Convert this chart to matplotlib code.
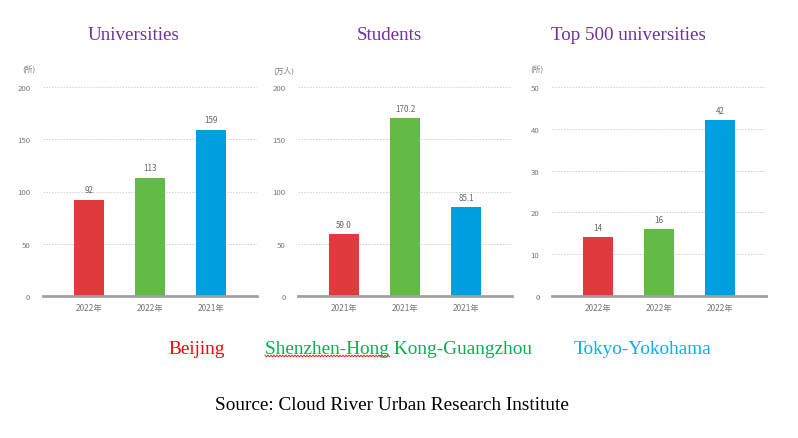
import matplotlib
matplotlib.use("Agg")
import matplotlib.pyplot as plt
import numpy as np
from matplotlib.lines import Line2D

W, H = 798, 439

titles = ["Universities", "Students", "Top 500 universities"]
units = ["(所)", "(万人)", "(所)"]
uni_years = ["2022年", "2022年", "2021年"]
uni_vals = [92, 113, 159]
stu_years = ["2021年", "2021年", "2021年"]
stu_vals = [59.0, 170.2, 85.1]
stu_labels = ["59.0", "170.2", "85.1"]
top_years = ["2022年", "2022年", "2022年"]
top_vals = [14, 16, 42]
cities = ["Beijing", "Shenzhen-Hong Kong-Guangzhou", "Tokyo-Yokohama"]
source = "Source: Cloud River Urban Research Institute"

bar_colors = ["#E0393E", "#62BB46", "#009FDF"]
city_colors = ["#FF0000", "#00B050", "#00B0F0"]
title_color = "#7030A0"

panels = [
    dict(left=43, vals=uni_vals, labels=[str(v) for v in uni_vals], years=uni_years,
         ymax=200, ticks=[0, 50, 100, 150, 200], unit=units[0], unit_x=22),
    dict(left=298, vals=stu_vals, labels=stu_labels, years=stu_years,
         ymax=200, ticks=[0, 50, 100, 150, 200], unit=units[1], unit_x=273),
    dict(left=552, vals=top_vals, labels=[str(v) for v in top_vals], years=top_years,
         ymax=50, ticks=[0, 10, 20, 30, 40, 50], unit=units[2], unit_x=530),
]

fig = plt.figure(figsize=(W / 100, H / 100), dpi=100)
fig.patch.set_facecolor("white")

cjk = ["Noto Sans CJK SC", "DejaVu Sans"]
tick_color = "#777777"
y0, ytop = 297, 88
axw = 214

for p in panels:
    ax = fig.add_axes([p["left"] / W, 1 - y0 / H, axw / W, (y0 - ytop) / H])
    x = np.arange(3)
    ax.bar(x, p["vals"], width=0.5, color=bar_colors, zorder=3)
    ax.set_xlim(-0.75, 2.75)
    ax.set_ylim(0, p["ymax"])
    for s in ["top", "right", "left"]:
        ax.spines[s].set_visible(False)
    ax.spines["bottom"].set_color("#A0A0A0")
    ax.spines["bottom"].set_linewidth(2)
    ax.spines["bottom"].set_zorder(4)
    ax.set_yticks(p["ticks"])
    ax.set_yticklabels([str(t) for t in p["ticks"]], fontsize=5.6, color=tick_color,
                       family=cjk)
    ax.set_xticks(x)
    ax.set_xticklabels(p["years"], fontsize=6.0, color=tick_color, family=cjk)
    ax.tick_params(axis="both", length=0)
    ax.tick_params(axis="y", pad=9)
    ax.tick_params(axis="x", pad=5)
    for t in p["ticks"][1:]:
        ax.axhline(t, color="#D0D0D0", linestyle=(0, (1.5, 1.5)), linewidth=0.7, zorder=1)
    for xi, v, lab in zip(x, p["vals"], p["labels"]):
        ax.annotate(lab, (xi, v), xytext=(0, 4), textcoords="offset points",
                    ha="center", va="bottom", fontsize=5.8, color="#666666",
                    family=cjk, annotation_clip=False)
    fig.text(p["unit_x"] / W, 1 - 71 / H, p["unit"], fontsize=5.6, color=tick_color,
             family=cjk, ha="left", va="center")

serif = ["Liberation Serif", "DejaVu Serif"]
title_x = [88, 357, 551]
for t, tx in zip(titles, title_x):
    fig.text(tx / W, 1 - 40 / H, t, fontsize=13.7, color=title_color, family=serif,
             ha="left", va="baseline")

city_x = [168, 265, 574]
for c, cx, col in zip(cities, city_x, city_colors):
    fig.text(cx / W, 1 - 354 / H, c, fontsize=13.9, color=col, family=serif,
             ha="left", va="baseline")

fig.text(215 / W, 1 - 410 / H, source, fontsize=13.9, color="black", family=serif,
         ha="left", va="baseline")

# spell-check squiggle under "Shenzhen-Hong"
zx = np.arange(265, 390, 1.5)
zy = 357 + np.where(np.arange(len(zx)) % 2 == 0, -0.8, 0.8)
fig.add_artist(Line2D(zx / W, 1 - zy / H, color="#E02020", linewidth=0.7,
                      transform=fig.transFigure))

fig.savefig("out.png", dpi=100, facecolor="white")
